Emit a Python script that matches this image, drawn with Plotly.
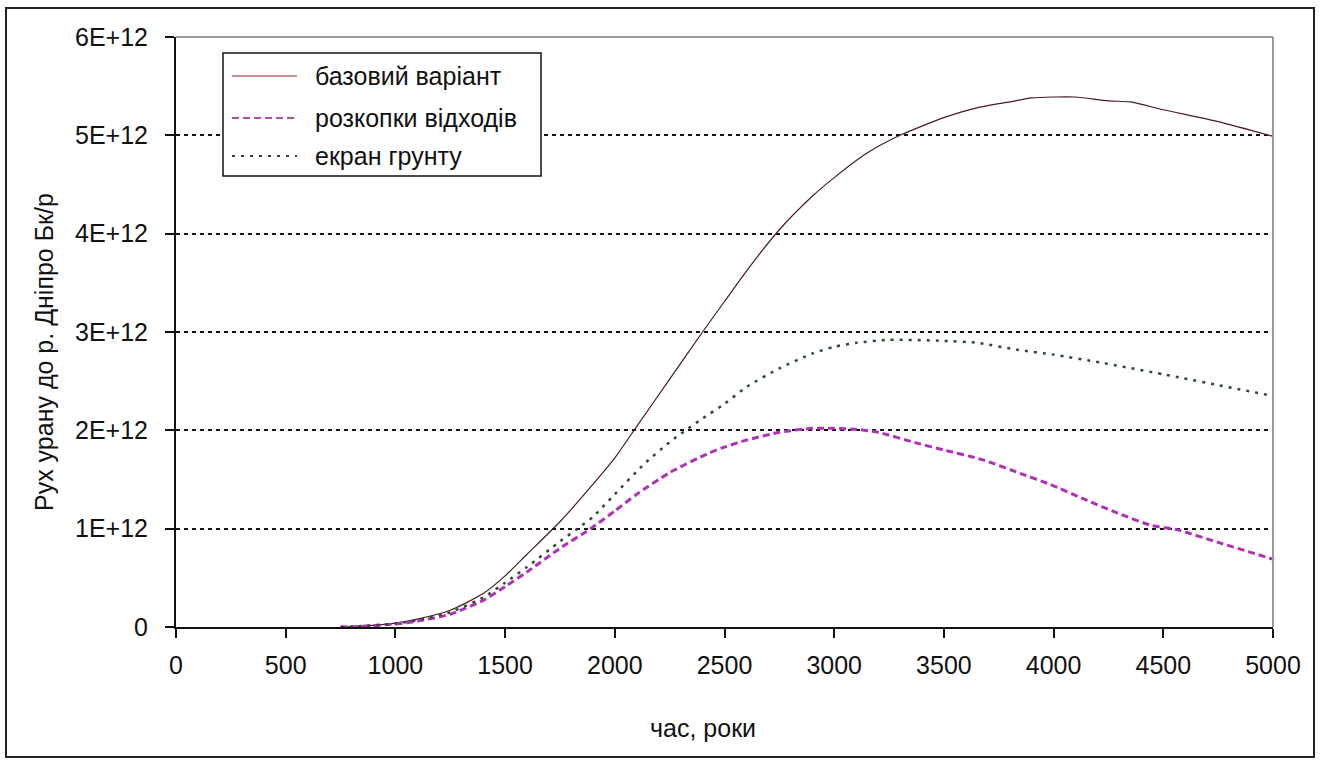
import plotly.graph_objects as go

# ---------------- data ----------------
years_base = [750, 850, 1000, 1100, 1250, 1400, 1500, 1600, 1750, 1900, 2000, 2100, 2250, 2400,
              2500, 2600, 2750, 2900, 3000, 3150, 3300, 3500, 3650, 3800, 3900, 4000, 4100, 4250,
              4350, 4500, 4750, 5000]
vals_base = [0.0, 0.01, 0.04, 0.08, 0.17, 0.34, 0.52, 0.74, 1.07, 1.45, 1.72, 2.04, 2.52, 3.0,
             3.31, 3.62, 4.04, 4.38, 4.57, 4.82, 5.0, 5.18, 5.28, 5.34, 5.38, 5.39, 5.39, 5.35,
             5.34, 5.26, 5.14, 4.99]

years_dig = [750, 850, 1000, 1100, 1250, 1400, 1500, 1600, 1750, 1890, 2000, 2100, 2250, 2430,
             2500, 2600, 2750, 2900, 3000, 3100, 3200, 3377, 3500, 3678, 3850, 3984, 4150, 4289,
             4450, 4562, 4750, 5000]
vals_dig = [0.0, 0.008, 0.03, 0.06, 0.13, 0.27, 0.41, 0.56, 0.8, 1.0, 1.18, 1.35, 1.57, 1.77,
            1.83, 1.9, 1.98, 2.02, 2.02, 2.01, 1.98, 1.87, 1.8, 1.70, 1.56, 1.45, 1.29, 1.16,
            1.03, 0.99, 0.86, 0.69]

years_scr = [750, 850, 1000, 1100, 1250, 1400, 1500, 1600, 1750, 1830, 1900, 2000, 2135, 2250,
             2335, 2400, 2500, 2600, 2750, 2900, 3000, 3100, 3250, 3500, 3650, 3833, 4000, 4212,
             4500, 4590, 4750, 5000]
vals_scr = [0.0, 0.01, 0.035, 0.07, 0.15, 0.3, 0.45, 0.61, 0.87, 1.0, 1.12, 1.35, 1.66, 1.88,
            2.02, 2.12, 2.27, 2.44, 2.63, 2.78, 2.85, 2.89, 2.92, 2.91, 2.89, 2.82, 2.77, 2.69,
            2.57, 2.53, 2.46, 2.35]

scale = 1e12
series_names = ["базовий варіант", "розкопки відходів", "екран грунту"]

x_ticks = [0, 500, 1000, 1500, 2000, 2500, 3000, 3500, 4000, 4500, 5000]
y_tickvals = [0, 1e12, 2e12, 3e12, 4e12, 5e12, 6e12]
y_ticktext = ["0", "1E+12", "2E+12", "3E+12", "4E+12", "5E+12", "6E+12"]

x_title = "час, роки"
y_title = "Рух урану до р. Дніпро Бк/р"

# ---------------- layout geometry (pixels) ----------------
W, H = 1320, 761
PL, PR, PT, PB = 176, 1273, 37, 627


def px(x):
    return (x - PL) / (PR - PL)


def py(y):
    return (PB - y) / (PB - PT)


FONT = "Arial, Liberation Sans, sans-serif"
FS = 25
styles = [
    dict(color="#4a1c20", width=1.2, dash="solid", legend_color="#a0202c"),
    dict(color="#b030b8", width=3, dash="7px,4px", legend_color="#b04cb0"),
    dict(color="#2f4a2f", width=2.5, dash="3px,6px", legend_color="#2f4a2f"),
]

fig = go.Figure()
for xs, ys, name, st in zip([years_base, years_dig, years_scr],
                            [vals_base, vals_dig, vals_scr], series_names, styles):
    fig.add_trace(go.Scatter(x=xs, y=[v * scale for v in ys], mode="lines", name=name,
                             line=dict(color=st["color"], width=st["width"], dash=st["dash"],
                                       shape="spline", smoothing=0.6),
                             showlegend=False))

shapes = []
annotations = []
# outer frame
shapes.append(dict(type="rect", xref="paper", yref="paper", x0=px(6), x1=px(1314), y0=py(757),
                   y1=py(8), line=dict(color="#222222", width=2), layer="below"))
# gray top & right border of plot area
shapes.append(dict(type="line", xref="paper", yref="paper", x0=0, x1=1, y0=1, y1=1,
                   line=dict(color="#9a9a9a", width=2)))
shapes.append(dict(type="line", xref="paper", yref="paper", x0=1, x1=1, y0=0, y1=1,
                   line=dict(color="#9a9a9a", width=2)))
# legend box
shapes.append(dict(type="rect", xref="paper", yref="paper", x0=px(223), x1=px(541), y0=py(176),
                   y1=py(53), line=dict(color="#111111", width=1.5), fillcolor="white"))
rows = [76, 118, 156]
for r, name, st in zip(rows, series_names, styles):
    shapes.append(dict(type="line", xref="paper", yref="paper", x0=px(232), x1=px(297),
                       y0=py(r), y1=py(r),
                       line=dict(color=st["legend_color"], width=min(st["width"], 1.8),
                                 dash=st["dash"])))
    annotations.append(dict(xref="paper", yref="paper", x=px(313), y=py(r), text=name,
                            showarrow=False, xanchor="left", yanchor="middle",
                            font=dict(family=FONT, size=FS, color="#111111")))
# axis titles
annotations.append(dict(xref="paper", yref="paper", x=px(703), y=py(728), text=x_title,
                        showarrow=False, xanchor="center", yanchor="middle",
                        font=dict(family=FONT, size=FS, color="#111111")))
annotations.append(dict(xref="paper", yref="paper", x=px(44), y=py(352), text=y_title,
                        showarrow=False, xanchor="center", yanchor="middle", textangle=-90,
                        font=dict(family=FONT, size=FS, color="#111111")))

fig.update_layout(
    width=W, height=H,
    margin=dict(l=PL, r=W - PR, t=PT, b=H - PB, pad=0),
    paper_bgcolor="white", plot_bgcolor="white",
    font=dict(family=FONT, size=FS, color="#111111"),
    shapes=shapes, annotations=annotations,
    xaxis=dict(range=[0, 5000], tickvals=x_ticks, ticks="outside", ticklen=9, tickwidth=1.5,
               tickcolor="#111111", showline=True, linecolor="#111111", linewidth=2,
               showgrid=False, zeroline=False, ticklabelstandoff=6,
               tickfont=dict(family=FONT, size=FS, color="#111111")),
    yaxis=dict(range=[0, 6e12], tickvals=y_tickvals, ticktext=y_ticktext, ticks="outside",
               ticklen=9, tickwidth=1.5, tickcolor="#111111", showline=True,
               linecolor="#111111", linewidth=2, showgrid=True, gridcolor="#111111",
               gridwidth=1.5, griddash="4px,4px", zeroline=False, ticklabelstandoff=12,
               tickfont=dict(family=FONT, size=FS, color="#111111")),
)

fig.write_html("out.html")
